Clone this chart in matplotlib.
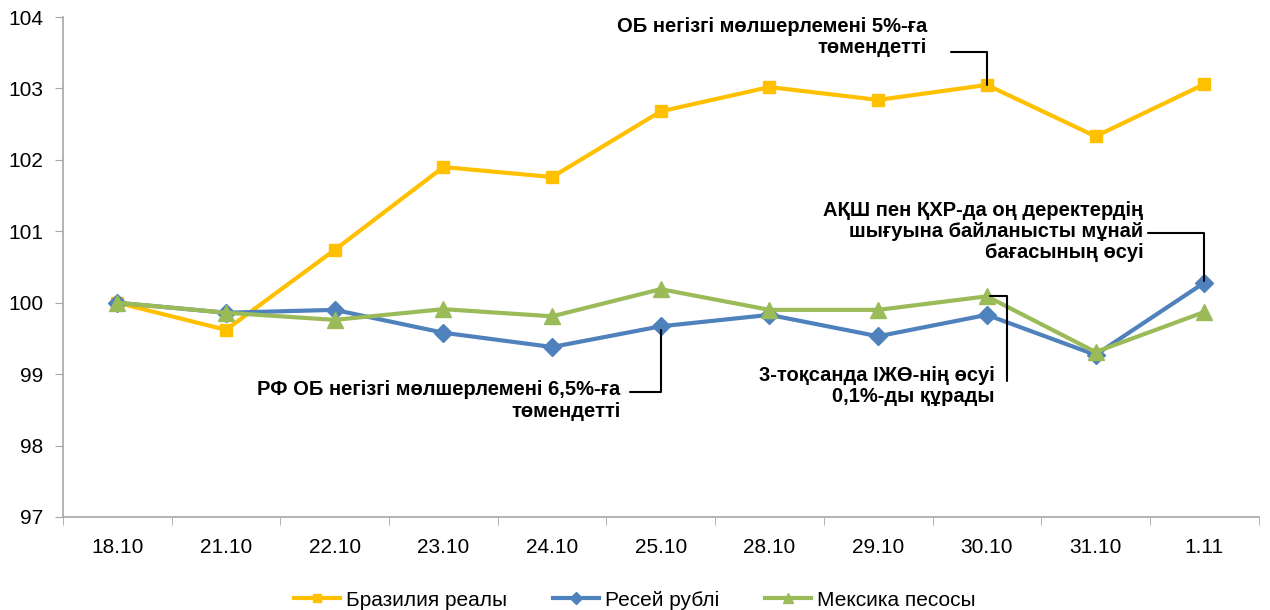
import numpy as np
import matplotlib.pyplot as plt

plt.rcParams['font.family'] = ['Liberation Sans', 'DejaVu Sans']

dates = ['18.10', '21.10', '22.10', '23.10', '24.10', '25.10',
         '28.10', '29.10', '30.10', '31.10', '1.11']
brazil = [100.0, 99.62, 100.74, 101.90, 101.76, 102.68,
          103.02, 102.84, 103.05, 102.33, 103.06]
russia = [100.0, 99.86, 99.90, 99.58, 99.38, 99.67,
          99.83, 99.53, 99.83, 99.27, 100.28]
mexico = [100.0, 99.86, 99.76, 99.91, 99.81, 100.19,
          99.90, 99.90, 100.09, 99.31, 99.87]

x = np.arange(len(dates))
grey = '#a6a6a6'

fig = plt.figure(figsize=(12.7, 6.1), dpi=100)
ax = fig.add_axes([0.0496, 0.1525, 0.9414, 0.8195])

ax.plot(x, brazil, color='#ffc000', lw=3, marker='s', ms=9, label='Бразилия реалы')
ax.plot(x, russia, color='#4f81bd', lw=3, marker='D', ms=9, label='Ресей рублі')
ax.plot(x, mexico, color='#9bbb59', lw=3, marker='^', ms=11, label='Мексика песосы')

ax.set_xlim(-0.5, len(dates) - 0.5)
ax.set_ylim(97, 104)
ax.set_yticks(np.arange(97, 105, 1))
ax.set_xticks(x)
ax.set_xticklabels(dates)
ax.set_xticks(np.arange(-0.5, len(dates), 1), minor=True)
ax.tick_params(axis='x', which='major', length=0, pad=15, labelsize=15)
ax.tick_params(axis='x', which='minor', length=6, color=grey, direction='out')
ax.tick_params(axis='y', length=6, color=grey, labelsize=15, pad=8)

for s in ['top', 'right']:
    ax.spines[s].set_visible(False)
for s in ['left', 'bottom']:
    ax.spines[s].set_color(grey)
    ax.spines[s].set_linewidth(1.2)

bold = dict(fontsize=14.5, fontweight='bold', ha='right', va='center', linespacing=1.15)
line = dict(arrowstyle='-', color='black', lw=1.5, shrinkA=0, shrinkB=0)

ax.text(7.45, 103.72, 'ОБ негізгі мөлшерлемені 5%-ға\nтөмендетті', **bold)
ax.annotate('', xy=(8, 103.05), xytext=(7.67, 103.51),
            arrowprops=dict(connectionstyle='angle,angleA=0,angleB=90,rad=0', **line))

ax.text(9.44, 101.0, 'АҚШ пен ҚХР-да оң деректердің\nшығуына байланысты мұнай\nбағасының өсуі', **bold)
ax.annotate('', xy=(10, 100.3), xytext=(9.48, 100.98),
            arrowprops=dict(connectionstyle='angle,angleA=0,angleB=90,rad=0', **line))

ax.text(4.63, 98.63, 'РФ ОБ негізгі мөлшерлемені 6,5%-ға\nтөмендетті', **bold)
ax.annotate('', xy=(5, 99.62), xytext=(4.72, 98.75),
            arrowprops=dict(connectionstyle='angle,angleA=0,angleB=90,rad=0', **line))

ax.text(8.07, 98.83, '3-тоқсанда ІЖӨ-нің өсуі\n0,1%-ды құрады', **bold)
ax.annotate('', xy=(8.19, 98.9), xytext=(8.03, 100.09),
            arrowprops=dict(connectionstyle='angle,angleA=0,angleB=90,rad=0', **line))

fig.legend(loc='lower center', bbox_to_anchor=(0.5, -0.03), ncol=3, frameon=False,
           fontsize=15, handlelength=2.2, columnspacing=2.2, handletextpad=0.3,
           markerscale=0.7)

fig.savefig('out.png', dpi=100)
